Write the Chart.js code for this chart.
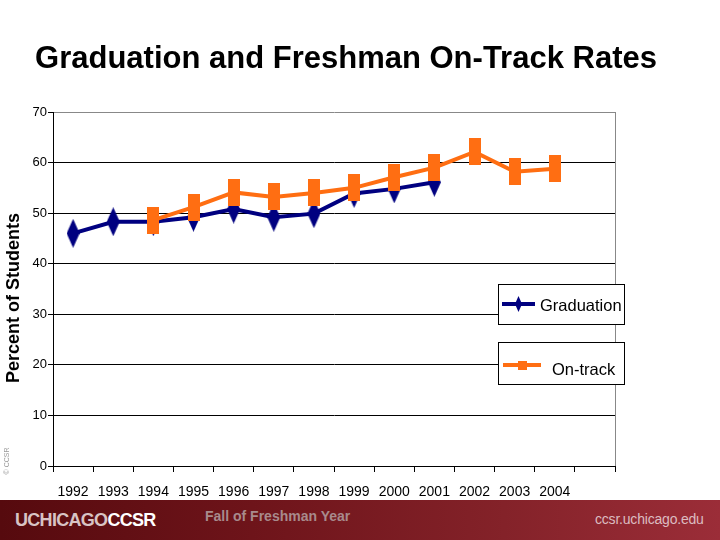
<!DOCTYPE html>
<html>
<head>
<meta charset="utf-8">
<script src="https://cdn.jsdelivr.net/npm/chart.js@4/dist/chart.umd.min.js"></script>
<style>
  html, body { margin: 0; padding: 0; background: #fff; }
  #wrap { position: relative; width: 720px; height: 540px; overflow: hidden; font-family: Arial, "Liberation Sans", sans-serif; }
  #c { position: absolute; left: 0; top: 0; }
  #footer { position: absolute; left: 0; top: 500px; width: 720px; height: 40px;
    background: linear-gradient(to right, #560a0e 0%, #6e141a 35%, #842229 70%, #9b2d38 100%); }
  #logo { position: absolute; left: 15px; top: 10px; font-size: 18px; font-weight: bold; letter-spacing: -0.7px; color: #d8c3c4; }
  #logo b { color: #ffffff; }
  #xtitle { position: absolute; left: 205px; top: 8px; font-size: 14px; font-weight: bold; color: #a88a8c; }
  #url { position: absolute; left: 595px; top: 11px; font-size: 14px; letter-spacing: -0.2px; color: #dcbcc0; }
</style>
</head>
<body>
<div id="wrap">
  <canvas id="c" width="720" height="540"></canvas>
  <div id="footer">
    <div id="logo">UCHICAGO<b>CCSR</b></div>
    <div id="xtitle">Fall of Freshman Year</div>
    <div id="url">ccsr.uchicago.edu</div>
  </div>
</div>
<script>
const chartTitle = "Graduation and Freshman On-Track Rates";
const yAxisTitle = "Percent of Students";
const categories = ["1992","1993","1994","1995","1996","1997","1998","1999","2000","2001","2002","2003","2004",""];
const graduation = [46, 48.3, 48.3, 49.2, 50.8, 49.2, 49.9, 53.9, 54.8, 56.1, null, null, null, null];
const onTrack = [null, null, 48.6, 51.2, 54.1, 53.2, 54.0, 55.0, 57.1, 59.0, 62.1, 58.2, 58.8, null];
const yTicks = [0, 10, 20, 30, 40, 50, 60, 70];

const NAVY = '#000080';
const ORANGE = '#FF6E12';
const FONT = 'Arial, "Liberation Sans", sans-serif';

function diamond(w, h, color) {
  const c = document.createElement('canvas');
  c.width = w; c.height = h;
  const g = c.getContext('2d');
  g.fillStyle = color;
  g.beginPath();
  g.moveTo(w / 2, 0); g.lineTo(w, h / 2); g.lineTo(w / 2, h); g.lineTo(0, h / 2);
  g.closePath(); g.fill();
  return c;
}
function rect(w, h, color) {
  const c = document.createElement('canvas');
  c.width = w; c.height = h;
  const g = c.getContext('2d');
  g.fillStyle = color; g.fillRect(0, 0, w, h);
  return c;
}

const gradMarker = diamond(13, 29, NAVY);
const trackMarker = rect(12, 27, ORANGE);
const gradLegendMarker = diamond(7, 16, NAVY);
const trackLegendMarker = rect(9, 9, ORANGE);

const decor = {
  id: 'decor',
  beforeDatasetsDraw(chart) {
    const {ctx, chartArea: a} = chart;
    ctx.save();
    ctx.strokeStyle = '#888';
    ctx.lineWidth = 1;
    ctx.beginPath();
    ctx.moveTo(a.right + 0.5, a.top);
    ctx.lineTo(a.right + 0.5, a.bottom);
    ctx.stroke();
    ctx.restore();
  },
  afterDraw(chart) {
    const {ctx} = chart;
    ctx.save();
    ctx.fillStyle = '#000';
    ctx.font = 'bold 31px ' + FONT;
    ctx.textAlign = 'center';
    ctx.textBaseline = 'middle';
    ctx.fillText(chartTitle, 346, 59);
    ctx.save();
    ctx.translate(14, 298);
    ctx.rotate(-Math.PI / 2);
    ctx.font = 'bold 18px ' + FONT;
    ctx.fillText(yAxisTitle, 0, 0);
    ctx.restore();
    ctx.save();
    ctx.translate(7, 461);
    ctx.rotate(-Math.PI / 2);
    ctx.font = '7px ' + FONT;
    ctx.fillStyle = '#999';
    ctx.fillText('© CCSR', 0, 0);
    ctx.restore();
    const ds = chart.data.datasets;
    const boxes = [
      {ds: ds[1], x: 498, y: 284, w: 126, h: 40, lx1: 502, lx2: 535, ly: 304, mk: gradLegendMarker, tx: 540, ty: 306},
      {ds: ds[0], x: 498, y: 342, w: 126, h: 42, lx1: 503, lx2: 541, ly: 365, mk: trackLegendMarker, tx: 552, ty: 370}
    ];
    boxes.forEach(b => {
      ctx.fillStyle = '#fff';
      ctx.fillRect(b.x, b.y, b.w, b.h);
      ctx.strokeStyle = '#000';
      ctx.lineWidth = 1;
      ctx.strokeRect(b.x + 0.5, b.y + 0.5, b.w, b.h);
      ctx.strokeStyle = b.ds.borderColor;
      ctx.lineWidth = 4;
      ctx.beginPath();
      ctx.moveTo(b.lx1, b.ly); ctx.lineTo(b.lx2, b.ly);
      ctx.stroke();
      const mx = (b.lx1 + b.lx2) / 2;
      ctx.drawImage(b.mk, mx - b.mk.width / 2, b.ly - b.mk.height / 2);
      ctx.fillStyle = '#000';
      ctx.font = '16.5px ' + FONT;
      ctx.textAlign = 'left';
      ctx.textBaseline = 'middle';
      ctx.fillText(b.ds.label, b.tx, b.ty);
    });
    ctx.restore();
  }
};

new Chart(document.getElementById('c'), {
  type: 'line',
  data: {
    labels: categories,
    datasets: [
      {
        label: 'On-track',
        data: onTrack,
        borderColor: ORANGE,
        backgroundColor: ORANGE,
        borderWidth: 4,
        pointStyle: trackMarker,
        pointRadius: 10,
        tension: 0,
        spanGaps: false,
        order: 0
      },
      {
        label: 'Graduation',
        data: graduation,
        borderColor: NAVY,
        backgroundColor: NAVY,
        borderWidth: 4,
        pointStyle: gradMarker,
        pointRadius: 10,
        tension: 0,
        spanGaps: false,
        order: 1
      }
    ]
  },
  options: {
    responsive: false,
    animation: false,
    events: [],
    layout: { padding: { top: 112, left: 0, right: 105, bottom: 40 } },
    plugins: { legend: { display: false }, tooltip: { enabled: false }, title: { display: false } },
    scales: {
      x: {
        offset: true,
        afterFit(s) { s.height = 34; },
        grid: { offset: true, drawOnChartArea: false, drawTicks: true, tickLength: 6, color: '#000' },
        border: { color: '#000', width: 1 },
        ticks: { color: '#000', font: { family: FONT, size: 14 }, padding: 12, maxRotation: 0, autoSkip: false }
      },
      y: {
        min: 0, max: 70,
        afterFit(s) { s.width = 53; },
        afterBuildTicks(s) { s.ticks = yTicks.map(v => ({value: v})); },
        grid: {
          color: ctx => (ctx.tick && ctx.tick.value === 70) ? '#888' : '#000',
          lineWidth: 1,
          tickLength: 5,
          tickColor: '#000'
        },
        border: { color: '#000', width: 1 },
        ticks: { color: '#000', font: { family: FONT, size: 13 }, padding: 1 }
      }
    }
  },
  plugins: [decor]
});
</script>
</body>
</html>
